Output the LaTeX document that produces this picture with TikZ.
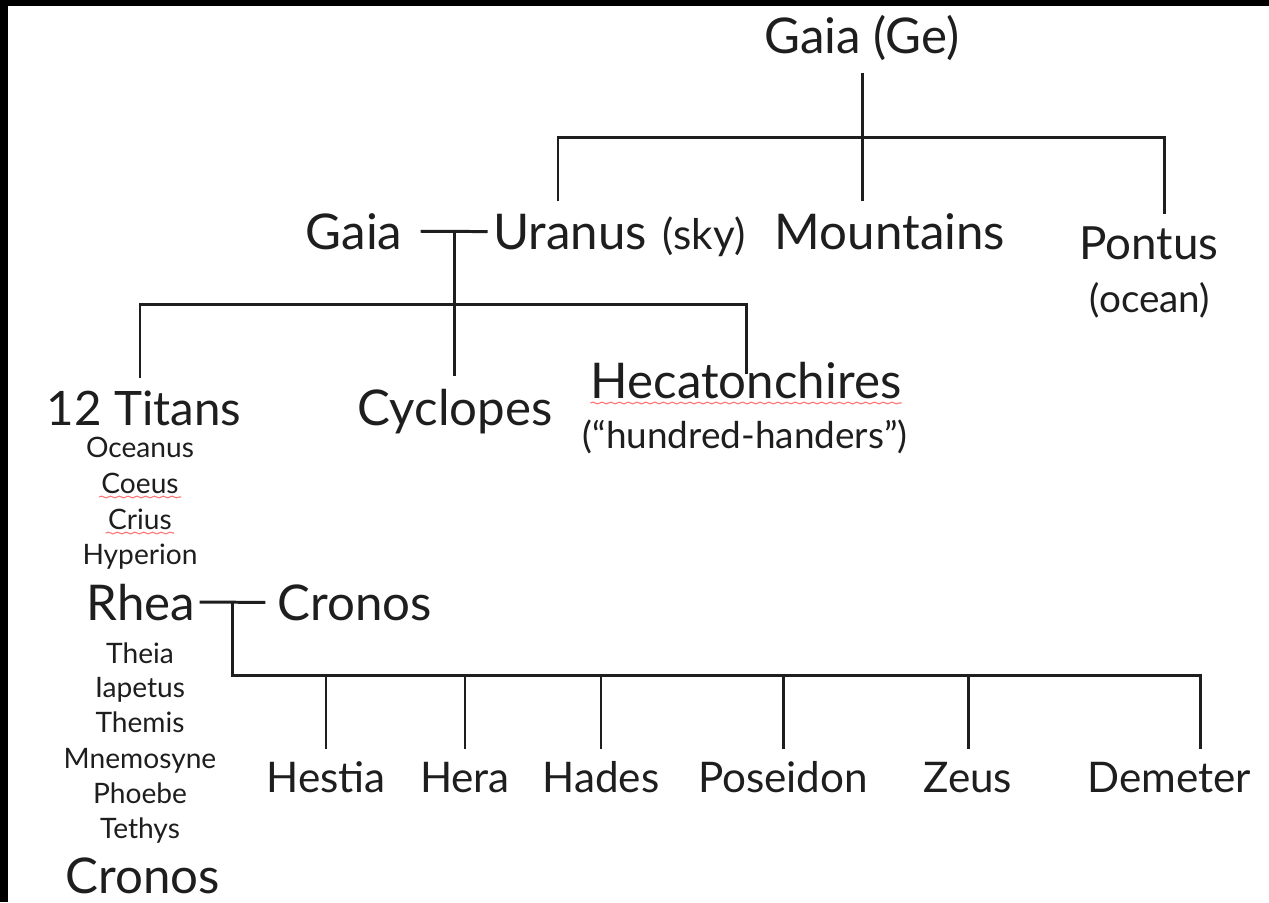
\documentclass[tikz,border=0pt]{standalone}
\usepackage{fontspec}
\setmainfont{Lato}
\usetikzlibrary{positioning,calc,decorations.pathmorphing}
\definecolor{inkgray}{RGB}{30,30,30}

\begin{document}
\begin{tikzpicture}[x=0.01cm, y=-0.01cm,
  every node/.style={text=inkgray},
  big/.style={font=\fontsize{14}{16}\selectfont, anchor=base},
  mid/.style={font=\fontsize{12}{14}\selectfont, anchor=base},
  note/.style={font=\fontsize{10.5}{12}\selectfont, anchor=base},
  titan/.style={font=\fontsize{8}{9}\selectfont, anchor=base},
  line/.style={draw=inkgray, line width=0.85pt},
  spell/.style={draw=red!55, line width=0.3pt, decorate,
                decoration={snake, amplitude=0.25pt, segment length=2.5pt}},
]

%% -- frame ------------------------------------------------------------------
\fill[white] (0,0) rectangle (1269,902);
\fill[black] (0,0) rectangle (1269,6);
\fill[black] (0,0) rectangle (8,902);
\useasboundingbox (0,0) rectangle (1269,902);

%% -- first generation ---------------------------------------------------------
\node[big] (ge) at (862,53) {Gaia (Ge)};

\node[big] (gaia)   at (354,249) {Gaia};
\node[big] (uranus) at (570,249) {Uranus};
\node[mid, base right=-2.5pt of uranus] (sky) {(sky)};
\node[big] (mtn)    at (890,249) {Mountains};
\node[big, font=\fontsize{13}{15}\selectfont] (pontus) at (1149,259) {Pontus};
\node[note, font=\fontsize{11}{13}\selectfont] (ocean) at (1150,312) {(ocean)};

%% -- children of Gaia and Uranus ----------------------------------------------
\node[big, font=\fontsize{13.5}{15}\selectfont] (titans) at (144,425) {12 Titans};
\node[big]  (cyc)    at (455,425) {Cyclopes};
\node[big]  (heca)   at (746,398) {Hecatonchires};
\node[note] (hund)   at (745,448) {(“hundred-handers”)};

% titan names
\foreach \name/\y [count=\i] in {Oceanus/457, Coeus/493, Crius/529, Hyperion/564}
  \node[titan] (t\i) at (140,\y) {\name};
\node[big] (rhea)   at (141,620) {Rhea};
\node[big] (cronos) at (355,620) {Cronos};
\foreach \name/\y [count=\i from 5] in {Theia/663, Iapetus/697, Themis/732,
    Mnemosyne/768, Phoebe/803, Tethys/838}
  \node[titan] (t\i) at (140,\y) {\name};
\node[big] (cronosB) at (143,893) {Cronos};

%% -- Olympians ----------------------------------------------------------------
\node[mid] (hestia)   at (326,792)  {Hestia};
\node[mid] (hera)     at (465,792)  {Hera};
\node[mid] (hades)    at (601,792)  {Hades};
\node[mid] (poseidon) at (783,792)  {Poseidon};
\node[mid] (zeus)     at (968,792)  {Zeus};
\node[mid] (demeter)  at (1169,792) {Demeter};

%% -- connectors -----------------------------------------------------------------
\coordinate (bar1) at (862,137);
\draw[line] (ge.south) -- (ge.south |- mtn.north);
\draw[line] ([xshift=-0.12cm]uranus.north) |- (bar1) -| ([xshift=0.15cm]pontus.north);

\draw[line] ([xshift=0.06cm]gaia.east) -- coordinate (wed1) ([xshift=0.07cm]uranus.west);
\coordinate (bar2) at (455,304);
\draw[line] (wed1) -- (wed1 |- cyc.north);
\draw[line] ([xshift=-0.04cm]titans.north) |- (bar2) -| ([yshift=-0.25cm]heca.north);

\draw[line] ([xshift=-0.08cm]rhea.east) -- coordinate (wed2) (cronos.west);
\coordinate (bar3) at (233,675);
\draw[line] (wed2) -- (wed2 |- bar3) -| ([xshift=0.31cm]demeter.north);
\foreach \k in {hestia,hera,hades,poseidon,zeus}
  \draw[line] (\k.north |- bar3) -- (\k.north);

% spell-check marks
\draw[spell] ($(heca.base west)+(12,5)$) -- ($(heca.base east)+(-12,5)$);
\draw[spell] ($(t2.base west)+(10,4)$) -- ($(t2.base east)+(-10,4)$);
\draw[spell] ($(t3.base west)+(10,4)$) -- ($(t3.base east)+(-10,4)$);

\end{tikzpicture}
\end{document}
